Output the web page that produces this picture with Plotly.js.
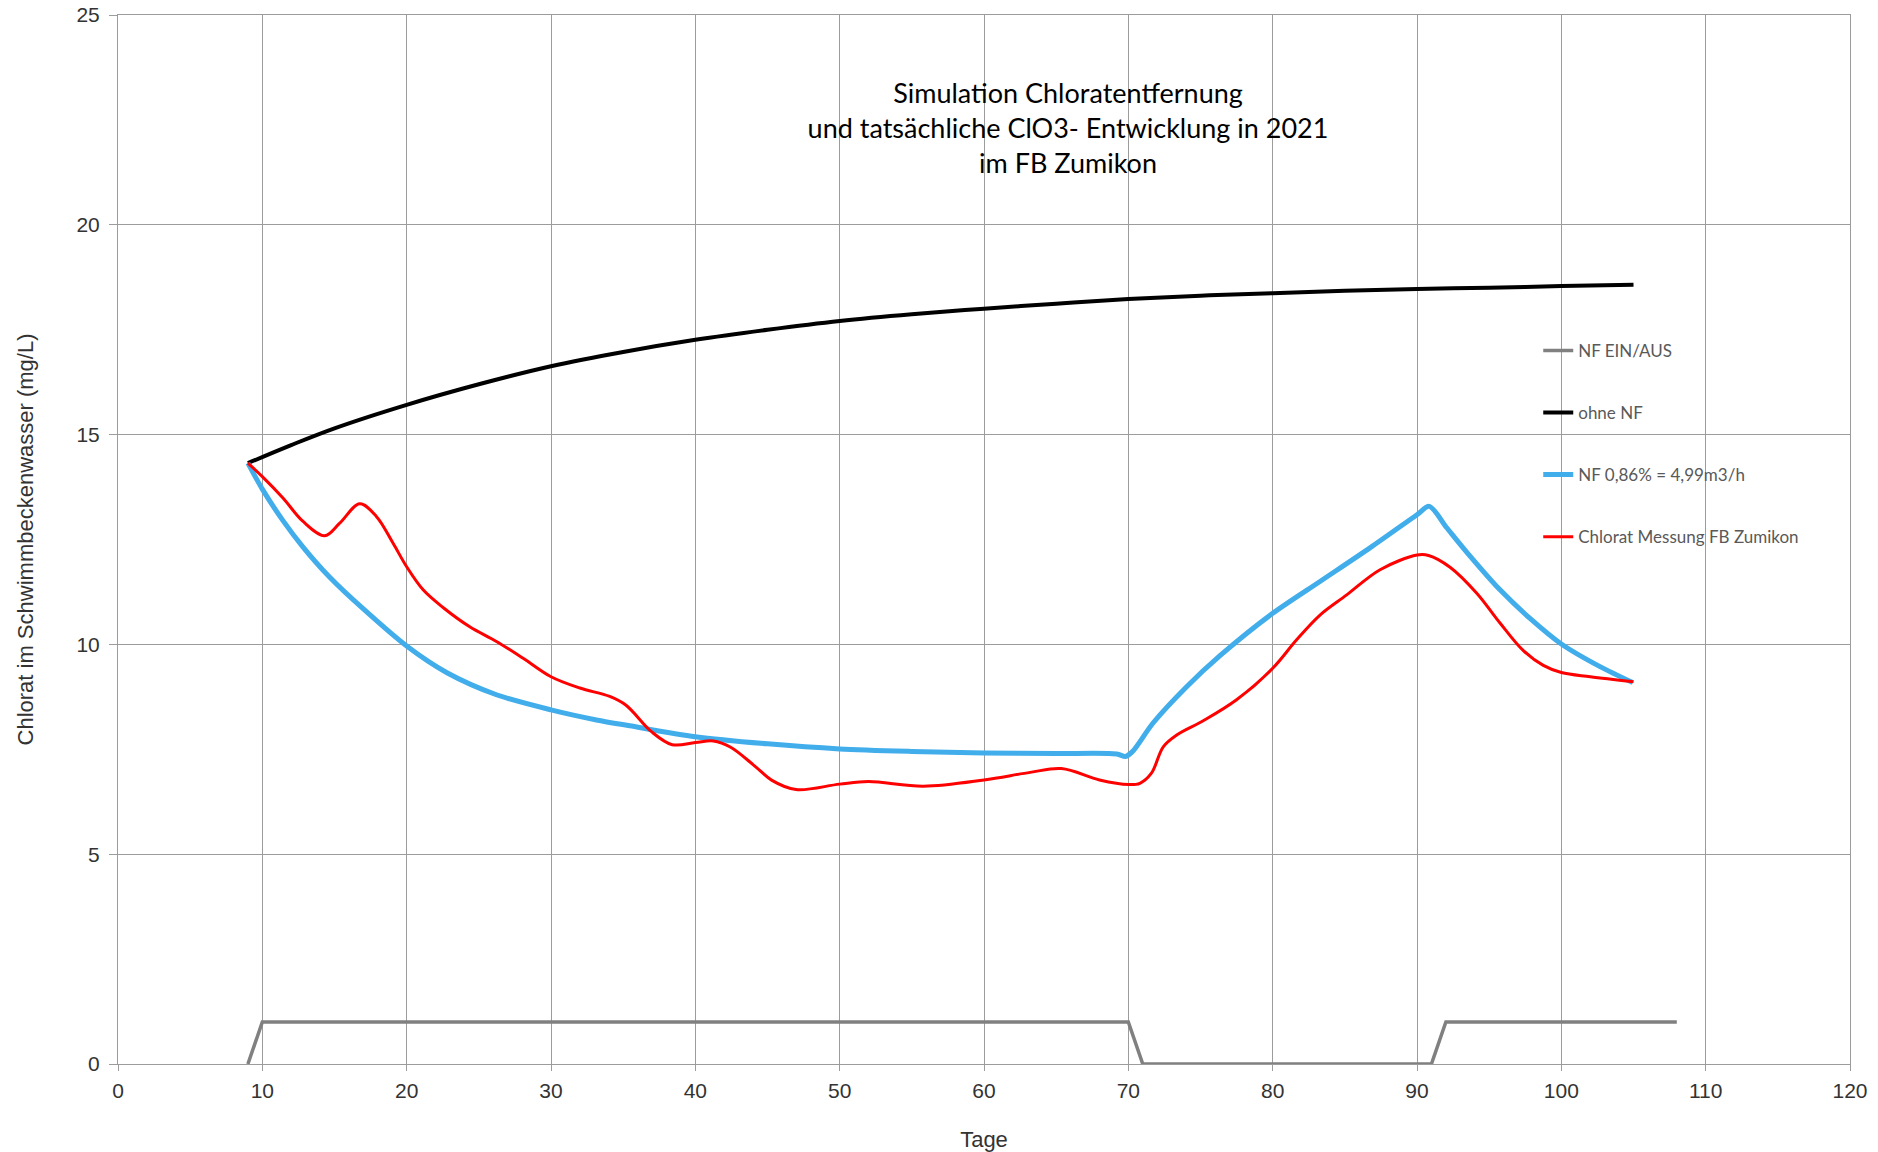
<!DOCTYPE html>
<html>
<head>
<meta charset="utf-8">
<script src="https://cdn.plot.ly/plotly-3.0.1.min.js"></script>
<style>html,body{margin:0;padding:0;background:#fff;}#chart{width:1878px;height:1152px;}</style>
</head>
<body>
<div id="chart"></div>
<script>
// NF EIN/AUS (on/off)
const nfX = [9, 10, 70, 71, 91, 92, 108];
const nfY = [0, 1, 1, 0, 0, 1, 1];

// ohne NF
const ohneX = [9, 12, 15, 20, 25, 30, 35, 40, 45, 50, 55, 60, 65, 70, 75, 80, 85, 90, 95, 100, 105];
const ohneY = [14.32, 14.75, 15.15, 15.71, 16.2, 16.63, 16.97, 17.26, 17.5, 17.71, 17.87, 18.0, 18.12, 18.23, 18.31, 18.37, 18.43, 18.47, 18.5, 18.54, 18.57];

// NF 0,86% = 4,99m3/h
const nfSimX = [9, 10, 11.43, 12.82, 14.67, 16.98, 20, 22.76, 26.22, 30, 33.15, 35.46, 40, 45, 50, 55, 60, 65, 69.2, 69.8, 70.3, 71.7, 74.04, 76.35, 80, 83.28, 86.74, 90, 90.85, 92.06, 93.44, 95.75, 97.83, 100, 102.68, 104.95];
const nfSimY = [14.32, 13.7, 12.95, 12.32, 11.6, 10.85, 9.96, 9.33, 8.8, 8.44, 8.2, 8.06, 7.8, 7.63, 7.51, 7.45, 7.41, 7.4, 7.39, 7.33, 7.45, 8.12, 8.99, 9.73, 10.74, 11.5, 12.3, 13.09, 13.29, 12.78, 12.2, 11.3, 10.62, 10.01, 9.47, 9.09];

// Chlorat Messung FB Zumikon
const messX = [9, 10, 11.43, 12.82, 14.32, 15.36, 16.75, 17.9, 19.06, 20, 21.14, 22.52, 24.37, 26.22, 28.07, 30, 32, 34.07, 35.2, 36.96, 38.4, 40, 41.25, 42.45, 44.12, 45.31, 46.98, 50, 52, 55.8, 60, 63.2, 65.36, 68, 70, 70.8, 71.6, 72.42, 73.35, 75.19, 77.5, 80, 81.66, 83.28, 85.13, 87.44, 90, 90.8, 92.29, 94.14, 95.75, 97.37, 98.75, 100, 102, 105];
const messY = [14.32, 14.0, 13.49, 12.93, 12.59, 12.89, 13.35, 13.05, 12.41, 11.85, 11.3, 10.88, 10.42, 10.07, 9.67, 9.23, 8.96, 8.76, 8.55, 7.92, 7.61, 7.66, 7.7, 7.55, 7.1, 6.76, 6.54, 6.67, 6.73, 6.62, 6.77, 6.95, 7.04, 6.77, 6.66, 6.69, 6.93, 7.56, 7.84, 8.18, 8.68, 9.43, 10.11, 10.7, 11.18, 11.78, 12.13, 12.12, 11.84, 11.22, 10.51, 9.85, 9.5, 9.33, 9.23, 9.11];

const seriesNames = ['NF EIN/AUS', 'ohne NF', 'NF 0,86% = 4,99m3/h', 'Chlorat Messung FB Zumikon'];
const titleLines = ['Simulation Chloratentfernung', 'und tatsächliche ClO3- Entwicklung in 2021', 'im FB Zumikon'];
const xTitle = 'Tage';
const yTitle = 'Chlorat im Schwimmbeckenwasser (mg/L)';

const traces = [
  {x: nfX, y: nfY, name: seriesNames[0], legendgroup: 'g1', mode: 'lines',
   line: {color: '#808080', width: 3.5}},
  {x: ohneX, y: ohneY, name: seriesNames[1], legendgroup: 'g2', mode: 'lines',
   line: {color: '#000000', width: 4, shape: 'spline', smoothing: 1}},
  {x: nfSimX, y: nfSimY, name: seriesNames[2], legendgroup: 'g3', mode: 'lines',
   line: {color: '#41ADEB', width: 5, shape: 'spline', smoothing: 0.8}},
  {x: messX, y: messY, name: seriesNames[3], legendgroup: 'g4', mode: 'lines',
   line: {color: '#FF0000', width: 3, shape: 'spline', smoothing: 1}}
];

const gridC = '#9c9c9c';
const layout = {
  width: 1878, height: 1152,
  paper_bgcolor: '#ffffff', plot_bgcolor: '#ffffff',
  margin: {l: 118, r: 28, t: 15, b: 88},
  font: {family: 'Liberation Sans, Arial, sans-serif', color: '#333333'},
  title: {
    text: titleLines.join('<br>'),
    font: {family: 'Lato, Calibri, sans-serif', size: 27, color: '#000000'},
    x: 0.5687, xref: 'container', xanchor: 'center',
    y: 1 - 103 / 1152, yref: 'container', yanchor: 'top'
  },
  xaxis: {
    range: [0, 120], dtick: 10, tick0: 0,
    showgrid: true, gridcolor: gridC, gridwidth: 1,
    zeroline: false, showline: true, linecolor: gridC, linewidth: 1, mirror: true,
    ticks: 'outside', ticklen: 6, tickcolor: gridC, ticklabelstandoff: 2,
    tickfont: {size: 21, color: '#333333'},
    title: {text: xTitle, font: {size: 22, color: '#333333'}, standoff: 33}
  },
  yaxis: {
    range: [0, 25], dtick: 5, tick0: 0,
    showgrid: true, gridcolor: gridC, gridwidth: 1,
    zeroline: false, showline: true, linecolor: gridC, linewidth: 1, mirror: true,
    ticks: 'outside', ticklen: 8, tickcolor: gridC, ticklabelstandoff: 5,
    tickfont: {size: 21, color: '#333333'},
    title: {text: yTitle, font: {size: 22, color: '#333333'}, standoff: 36}
  },
  legend: {
    x: 0.82, y: 0.697, xanchor: 'left', yanchor: 'top',
    bgcolor: 'rgba(255,255,255,0)', borderwidth: 0,
    font: {family: 'Lato, Calibri, sans-serif', size: 17, color: '#595959'},
    tracegroupgap: 37, traceorder: 'grouped'
  },
  shapes: [
    {type: 'rect', xref: 'paper', yref: 'paper', x0: 0.3908, x1: 0.7066, y0: 0.8391, y1: 0.9488,
     fillcolor: '#ffffff', line: {width: 0}, layer: 'between'},
    {type: 'rect', xref: 'paper', yref: 'paper', x0: 0.8048, x1: 0.9833, y0: 0.473, y1: 0.7123,
     fillcolor: '#ffffff', line: {width: 0}, layer: 'between'}
  ],
  showlegend: true
};

Plotly.newPlot('chart', traces, layout, {displayModeBar: false, staticPlot: true});
</script>
</body>
</html>
